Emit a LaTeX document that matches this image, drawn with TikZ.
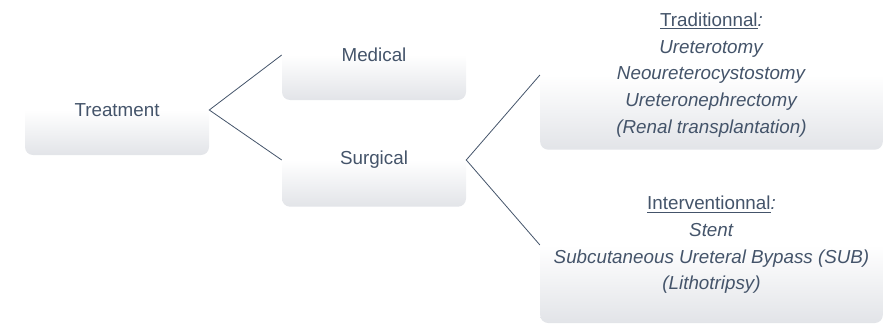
\documentclass[tikz,border=0pt]{standalone}
\usepackage{fontspec}
\setmainfont{Liberation Sans}
\usepackage{xcolor}
\usetikzlibrary{positioning}
\definecolor{slate}{RGB}{68,84,106}
\definecolor{boxgray}{RGB}{226,228,232}

\begin{document}
\begin{tikzpicture}[x=0.75pt, y=-0.75pt,
    box/.style={rectangle, rounded corners=6pt, top color=white, bottom color=boxgray,
        middle color=white, draw=none, align=center, text=slate,
        font=\fontsize{14.1}{20}\selectfont, inner sep=0pt},
    link/.style={draw=slate, line width=0.6pt}]
    \useasboundingbox (0,0) rectangle (892,325);

    % 1. Các ô
    \node[box, minimum width=138pt, minimum height=67.5pt] (treat) at (117,110) {Treatment};
    \node[box, minimum width=138pt, minimum height=67.5pt] (medical) at (374,55) {Medical};
    \node[box, minimum width=138pt, minimum height=70pt] (surgical) at (374,160) {Surgical};
    \node[box, minimum width=257pt, minimum height=112pt] (trad) at (711.5,75)
        {\underline{Traditionnal}\textit{:}\\ \textit{Ureterotomy}\\ \textit{Neoureterocystostomy}\\
         \textit{Ureteronephrectomy}\\ \textit{(Renal transplantation)}};
    \node[box, minimum width=257pt, minimum height=117pt] (interv) at (711.5,245)
        {\underline{Interventionnal}\textit{:}\\ \textit{Stent}\\
         \textit{Subcutaneous Ureteral Bypass (SUB)}\\ \textit{(Lithotripsy)}};

    % 2. Các nhánh
    \draw[link] (medical.west) -- (treat.east) -- (surgical.west);
    \draw[link] (trad.west) -- (surgical.east) -- (interv.west);
\end{tikzpicture}
\end{document}
